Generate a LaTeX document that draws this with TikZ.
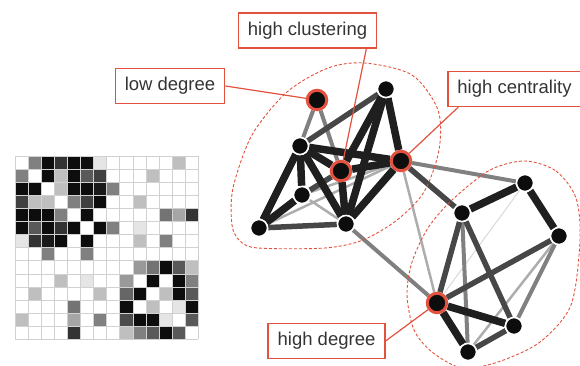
\documentclass[tikz,border=0pt]{standalone}
\usepackage{fontspec}
\setmainfont{Liberation Sans}
\usetikzlibrary{backgrounds}

\definecolor{hubred}{RGB}{226,82,62}
\definecolor{labelgray}{RGB}{52,52,52}

\tikzset{
  vtx/.style={circle,fill=black!95,draw=white,line width=1.5pt,
    minimum size=17pt,inner sep=0pt},
  hubvtx/.style={circle,fill=black!95,draw=hubred,line width=3pt,
    minimum size=19.5pt,inner sep=0pt},
  labelbox/.style={draw=hubred,line width=1.4pt,fill=white,text=labelgray,
    font=\fontsize{18.5}{21}\selectfont,inner xsep=9.5pt,minimum height=35pt},
  pointer/.style={hubred,line width=1.2pt},
  cluster/.style={hubred,densely dashed,line width=0.9pt},
  edgeblack/.style={black!88,line width=7.5pt},
  edgedark/.style={black!72,line width=5.5pt},
  edgegray/.style={black!50,line width=4pt},
  edgelight/.style={black!32,line width=2.5pt},
  edgefaint/.style={black!15,line width=1pt},
}

\begin{document}
\begin{tikzpicture}[x=1pt,y=-1pt]
    \useasboundingbox (0,0) rectangle (580,365);

    % connectivity matrix, darkness in percent
    \foreach \row [count=\i from 0] in {
        {0,50,95,80,95,95,10,0,0,0,0,0,25,0},
        {50,0,95,25,95,65,75,0,0,0,25,0,0,0},
        {95,95,0,25,95,95,90,50,0,0,0,0,0,0},
        {75,25,25,0,50,75,95,0,0,25,0,0,0,0},
        {95,95,95,50,0,95,0,0,0,0,0,55,35,80},
        {95,65,95,80,95,0,95,50,0,10,0,0,0,0},
        {10,80,90,95,0,95,0,0,0,25,0,50,0,0},
        {0,0,50,0,0,50,0,0,0,0,0,0,0,0},
        {0,0,0,0,0,0,0,0,0,40,55,95,65,25},
        {0,0,0,25,0,10,0,0,40,0,95,0,95,50},
        {0,25,0,0,0,0,25,0,60,95,0,25,95,65},
        {0,0,0,0,55,0,0,0,95,0,25,0,10,95},
        {25,0,0,0,35,0,50,0,70,95,95,10,0,65},
        {0,0,0,0,80,0,0,0,25,50,65,95,65,0}}{
        \foreach \v [count=\j from 0] in \row {
            \fill[black!\v] (15+13.1*\j,156+13.1*\i) rectangle ++(13.1,13.1);
        }
    }
    \foreach \k in {0,...,14}{
        \draw[black!18,line width=0.7pt] (15+13.1*\k,156) -- ++(0,183.4);
        \draw[black!18,line width=0.7pt] (15,156+13.1*\k) -- ++(183.4,0);
    }

    % left module
    \node[hubvtx] (low)   at (317,100) {};
    \node[vtx]    (top)   at (386,89)  {};
    \node[vtx]    (west)  at (300,146) {};
    \node[hubvtx] (clus)  at (341,171) {};
    \node[hubvtx] (cent)  at (401,161) {};
    \node[vtx]    (mid)   at (302,195) {};
    \node[vtx]    (sw)    at (259,228) {};
    \node[vtx]    (south) at (346,224) {};

    % right module
    \node[vtx]    (rn)    at (462,213) {};
    \node[vtx]    (rne)   at (525,183) {};
    \node[vtx]    (re)    at (559,236) {};
    \node[hubvtx] (hub)   at (437,303) {};
    \node[vtx]    (rse)   at (514,326) {};
    \node[vtx]    (rs)    at (468,352) {};

    \begin{pgfonlayer}{background}
        \foreach \a/\b/\s in {
            cent/hub/edgelight, rne/hub/edgefaint, south/hub/edgegray,
            sw/cent/edgelight, mid/cent/edgelight, mid/south/edgelight,
            low/west/edgegray, low/clus/edgegray, top/west/edgedark,
            mid/clus/edgedark, sw/south/edgedark, top/south/edgeblack,
            top/clus/edgeblack, top/cent/edgeblack, west/clus/edgeblack,
            west/cent/edgeblack, west/mid/edgeblack, west/sw/edgeblack,
            west/south/edgeblack, clus/cent/edgeblack, clus/south/edgeblack,
            cent/south/edgeblack, mid/sw/edgeblack,
            cent/rne/edgegray, cent/rn/edgedark,
            re/rs/edgelight, re/rse/edgegray, rn/rs/edgegray,
            rn/hub/edgedark, rn/rse/edgedark, re/hub/edgedark,
            rse/rs/edgedark, rn/rne/edgeblack, rne/re/edgeblack,
            hub/rse/edgeblack, hub/rs/edgeblack}{
            \draw[\s] (\a) -- (\b);
        }
    \end{pgfonlayer}

    % module outlines
    \draw[cluster] plot[smooth cycle] coordinates {
        (365,63) (412,75) (438,110) (439,150) (424,192) (397,220)
        (363,240) (325,248) (258,248) (240,241) (232,225) (233,188)
        (252,135) (287,92) (328,68)};
    \draw[cluster] plot[smooth cycle] coordinates {
        (525,161) (556,171) (576,198) (580,240) (571,305) (540,342)
        (498,362) (462,368) (432,352) (414,330) (407,295) (412,262)
        (428,228) (452,200) (490,170)};

    % labels
    \node[labelbox] (clustlab) at (307.5,30.5) {high clustering};
    \node[labelbox] (lowlab)   at (170,86)     {low degree};
    \node[labelbox] (centlab)  at (514.5,89)   {high centrality};
    \node[labelbox] (deglab)   at (326.5,341)  {high degree};

    \draw[pointer] ([xshift=-11pt]clustlab.south east) -- (clus);
    \draw[pointer] (lowlab.east) -- (low);
    \draw[pointer] ([xshift=11pt]centlab.south west) -- (cent);
    \draw[pointer] (deglab.east) -- (hub);
\end{tikzpicture}
\end{document}
